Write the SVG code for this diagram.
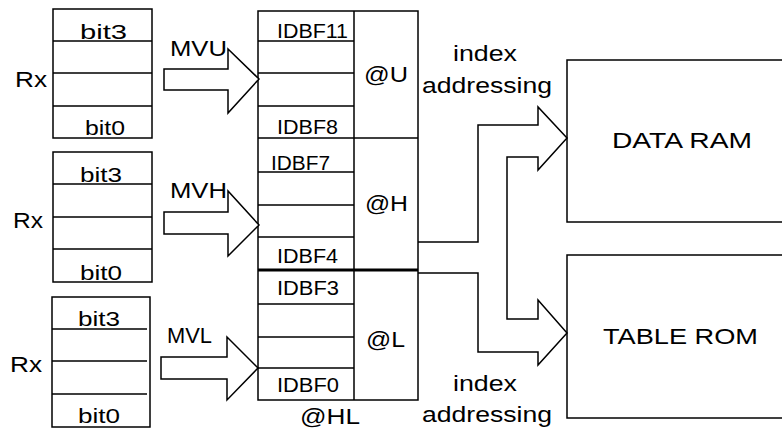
<svg xmlns="http://www.w3.org/2000/svg" width="782" height="430" viewBox="0 0 782 430">
<style>
.ln{fill:none;stroke:#000;stroke-width:1.5}
.ar{fill:#fff;stroke:#000;stroke-width:1.5;stroke-linejoin:miter}
.t{font-family:"Liberation Sans",Arial,sans-serif;font-size:22px;fill:#000}
.s{font-family:"Liberation Sans",Arial,sans-serif;font-size:20px;fill:#000}
</style>
<rect width="782" height="430" fill="#fff"/>
<g id="rx1">
<rect class="ln" x="53" y="9" width="99" height="129"/>
<path class="ln" d="M53 41H152M53 73H152M53 106H152"/>
<text class="s" x="80" y="39" textLength="47" lengthAdjust="spacingAndGlyphs">bit3</text>
<text class="s" x="85" y="135" textLength="40" lengthAdjust="spacingAndGlyphs">bit0</text>
<text class="t" x="15" y="87" textLength="32" lengthAdjust="spacingAndGlyphs">Rx</text>
</g>
<g id="rx2">
<rect class="ln" x="53" y="152" width="99" height="130"/>
<path class="ln" d="M53 184H152M53 217H152M53 249H152"/>
<text class="s" x="80" y="182" textLength="42" lengthAdjust="spacingAndGlyphs">bit3</text>
<text class="s" x="80" y="280" textLength="42" lengthAdjust="spacingAndGlyphs">bit0</text>
<text class="t" x="13" y="228" textLength="30" lengthAdjust="spacingAndGlyphs">Rx</text>
</g>
<g id="rx3">
<rect class="ln" x="52" y="297" width="98" height="130"/>
<path class="ln" d="M52 329H147M52 361H147M52 394H147"/>
<text class="s" x="78" y="326" textLength="42" lengthAdjust="spacingAndGlyphs">bit3</text>
<text class="s" x="78" y="423" textLength="42" lengthAdjust="spacingAndGlyphs">bit0</text>
<text class="t" x="10" y="372" textLength="32" lengthAdjust="spacingAndGlyphs">Rx</text>
</g>
<g id="idbf">
<rect class="ln" x="258" y="11" width="160" height="389"/>
<path class="ln" d="M354 11V400M258 41H354M258 73H354M258 106H354M258 138H418M258 172H354M258 205H354M258 237H354M258 304H354M258 337H354M258 368H354"/>
<path d="M258 270H418" fill="none" stroke="#000" stroke-width="3"/>
<text class="s" x="277" y="38" textLength="71" lengthAdjust="spacingAndGlyphs">IDBF11</text>
<text class="s" x="277" y="134" textLength="61" lengthAdjust="spacingAndGlyphs">IDBF8</text>
<text class="s" x="271" y="170" textLength="59" lengthAdjust="spacingAndGlyphs">IDBF7</text>
<text class="s" x="277" y="263" textLength="61" lengthAdjust="spacingAndGlyphs">IDBF4</text>
<text class="s" x="277" y="295" textLength="62" lengthAdjust="spacingAndGlyphs">IDBF3</text>
<text class="s" x="277" y="392" textLength="62" lengthAdjust="spacingAndGlyphs">IDBF0</text>
<text class="t" x="364" y="82" textLength="44" lengthAdjust="spacingAndGlyphs">@U</text>
<text class="t" x="365" y="211" textLength="43" lengthAdjust="spacingAndGlyphs">@H</text>
<text class="t" x="366" y="347" textLength="39" lengthAdjust="spacingAndGlyphs">@L</text>
<text class="t" x="300" y="424" textLength="60" lengthAdjust="spacingAndGlyphs">@HL</text>
</g>
<g id="ram">
<rect class="ln" x="567" y="60" width="230" height="162"/>
<text class="t" x="612" y="148" textLength="140" lengthAdjust="spacingAndGlyphs">DATA RAM</text>
</g>
<g id="rom">
<rect class="ln" x="567" y="255" width="230" height="163"/>
<text class="t" x="603" y="344" textLength="155" lengthAdjust="spacingAndGlyphs">TABLE ROM</text>
</g>
<g id="connectors">
<path class="ar" d="M164 69H228V49L259 79L228 113V90H164Z"/>
<path class="ar" d="M164 212H228V191L259 225L228 256V234H164Z"/>
<path class="ar" d="M161 357H227V337L258 368L227 400V379H161Z"/>
<text class="t" x="170" y="56" textLength="57" lengthAdjust="spacingAndGlyphs">MVU</text>
<text class="t" x="170" y="198" textLength="57" lengthAdjust="spacingAndGlyphs">MVH</text>
<text class="t" x="167" y="343" textLength="45" lengthAdjust="spacingAndGlyphs">MVL</text>
<path class="ln" d="M418 242H478V125H538V107L567 138L538 170V157H507V319H538V300L567 333L538 365V352H478V273H418"/>
<text class="t" x="453" y="61" textLength="64" lengthAdjust="spacingAndGlyphs">index</text>
<text class="t" x="422" y="93" textLength="130" lengthAdjust="spacingAndGlyphs">addressing</text>
<text class="t" x="453" y="391" textLength="64" lengthAdjust="spacingAndGlyphs">index</text>
<text class="t" x="422" y="422" textLength="130" lengthAdjust="spacingAndGlyphs">addressing</text>
</g>
</svg>
